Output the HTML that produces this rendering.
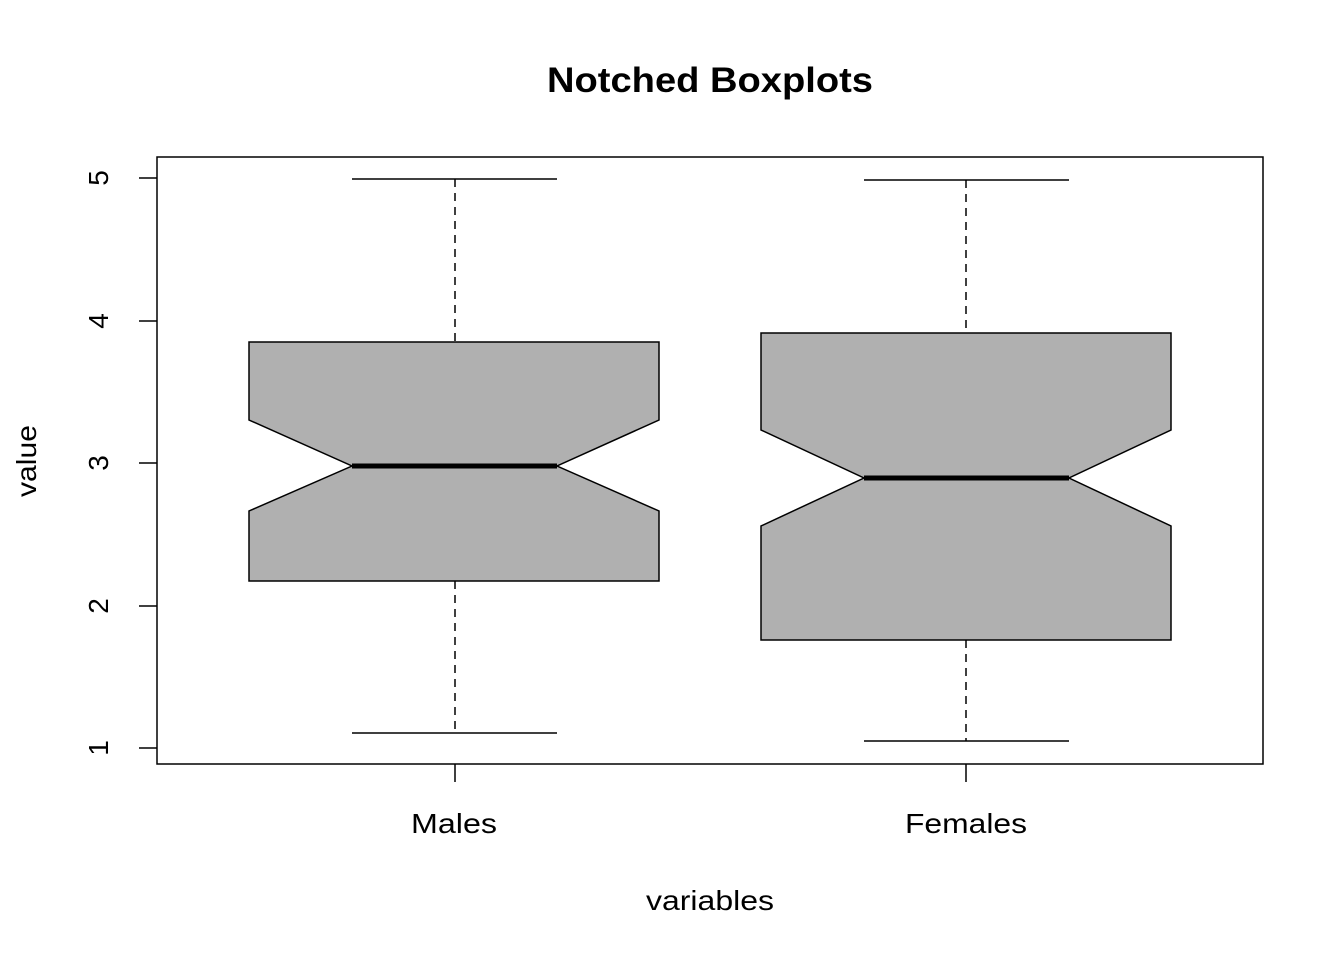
<!DOCTYPE html>
<html><head><style>body{margin:0;background:#fff}</style></head><body>
<svg width="1344" height="960" xmlns="http://www.w3.org/2000/svg" font-family="Liberation Sans, sans-serif">
<rect width="1344" height="960" fill="#fff"/>
<text x="710" y="92" font-size="35" font-weight="bold" text-anchor="middle" textLength="326" lengthAdjust="spacingAndGlyphs">Notched Boxplots</text>
<rect x="157" y="157" width="1106" height="607" fill="none" stroke="#000" stroke-width="1.5"/>
<g stroke="#000" stroke-width="1.5">
<line x1="139" y1="178" x2="157" y2="178"/><line x1="139" y1="321" x2="157" y2="321"/>
<line x1="139" y1="463" x2="157" y2="463"/><line x1="139" y1="606" x2="157" y2="606"/>
<line x1="139" y1="748" x2="157" y2="748"/>
<line x1="455" y1="764" x2="455" y2="782"/><line x1="966" y1="764" x2="966" y2="782"/>
</g>
<g font-size="28" text-anchor="middle">
<text transform="translate(108,178) rotate(-90)">5</text>
<text transform="translate(108,321) rotate(-90)">4</text>
<text transform="translate(108,463) rotate(-90)">3</text>
<text transform="translate(108,606) rotate(-90)">2</text>
<text transform="translate(108,748) rotate(-90)">1</text>
<text transform="translate(36,461) rotate(-90)" textLength="72" lengthAdjust="spacingAndGlyphs">value</text>
<text x="454" y="833" textLength="86" lengthAdjust="spacingAndGlyphs">Males</text>
<text x="966" y="833" textLength="122" lengthAdjust="spacingAndGlyphs">Females</text>
<text x="710" y="910" textLength="128" lengthAdjust="spacingAndGlyphs">variables</text>
</g>
<g stroke="#000" stroke-width="1.5" fill="none">
<line x1="455" y1="179" x2="455" y2="342" stroke-dasharray="8,6"/>
<line x1="455" y1="581" x2="455" y2="733" stroke-dasharray="8,6"/>
<line x1="352" y1="179" x2="557" y2="179"/><line x1="352" y1="733" x2="557" y2="733"/>
<polygon points="249,342 659,342 659,420 557,466 659,511 659,581 249,581 249,511 352,466 249,420" fill="#b0b0b0"/>
<line x1="966" y1="180" x2="966" y2="333" stroke-dasharray="8,6"/>
<line x1="966" y1="640" x2="966" y2="741" stroke-dasharray="8,6"/>
<line x1="864" y1="180" x2="1069" y2="180"/><line x1="864" y1="741" x2="1069" y2="741"/>
<polygon points="761,333 1171,333 1171,430 1069,478 1171,526 1171,640 761,640 761,526 864,478 761,430" fill="#b0b0b0"/>
</g>
<line x1="352" y1="466" x2="557" y2="466" stroke="#000" stroke-width="5"/>
<line x1="864" y1="478" x2="1069" y2="478" stroke="#000" stroke-width="5"/>
</svg>
</body></html>
